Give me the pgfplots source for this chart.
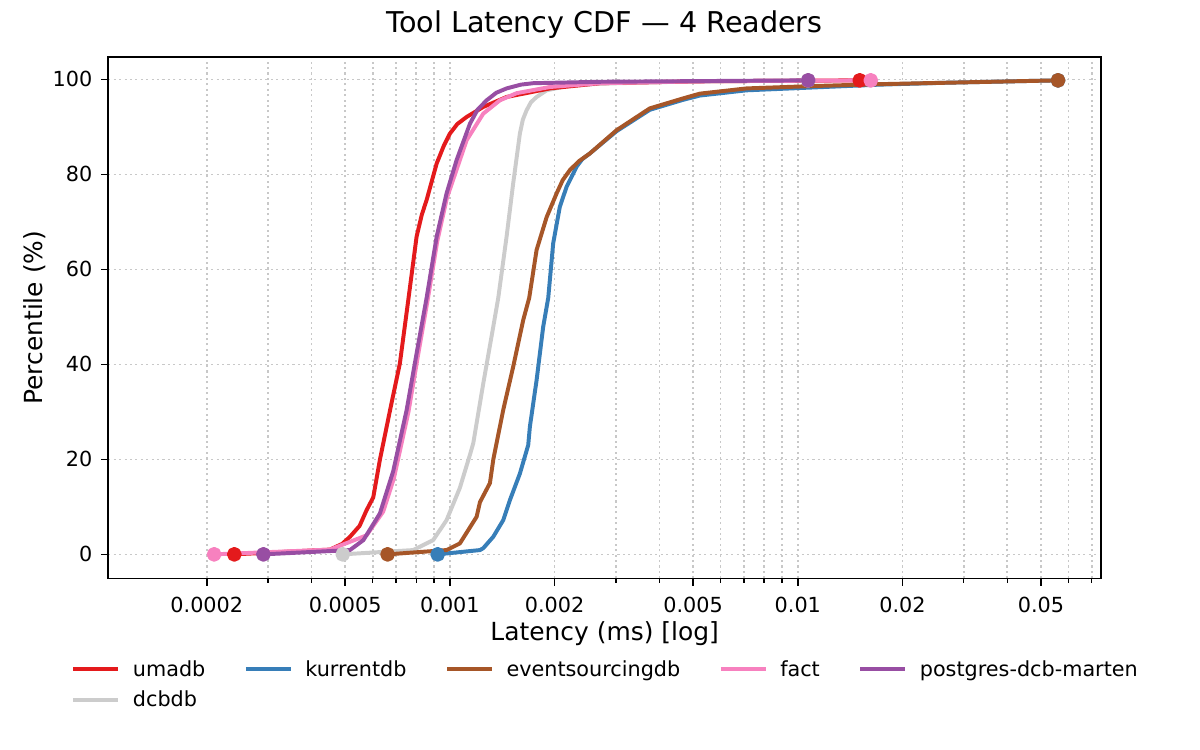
\documentclass[border=0pt]{standalone}
\usepackage{fontspec}
\setmainfont{DejaVu Sans}
\usepackage{pgfplots}
\pgfplotsset{compat=1.18}
\definecolor{cumadb}{HTML}{E41A1C}
\definecolor{ckurrent}{HTML}{377EB8}
\definecolor{cesdb}{HTML}{A65628}
\definecolor{cfact}{HTML}{F781BF}
\definecolor{cpg}{HTML}{984EA3}
\definecolor{cdcb}{HTML}{CCCCCC}
\definecolor{gridc}{RGB}{200,200,200}
\pgfplotsset{
  cdf/.style={color=#1, line width=1.9bp, line join=round, mark=*, mark size=2.6bp,
    mark options={draw=none, fill=#1}},
}
\begin{document}
\begin{tikzpicture}
\begin{axis}[
  at={(0,0)}, anchor=south west,
  scale only axis, width=476.5bp, height=250.2bp,
  xmode=log, xmin=1.042e-4, xmax=0.0744, ymin=-5.05, ymax=104.7,
  xtick={0.0002,0.0005,0.001,0.002,0.005,0.01,0.02,0.05},
  xticklabels={0.0002,0.0005,0.001,0.002,0.005,0.01,0.02,0.05},
  minor xtick={0.0003,0.0004,0.0006,0.0007,0.0008,0.0009,0.003,0.004,0.006,0.007,0.008,0.009,0.03,0.04,0.06,0.07},
  ytick={0,20,40,60,80,100},
  tick pos=left, tick align=outside,
  major tick length=3.5bp, minor tick length=2bp,
  tick style={black, line width=0.8bp},
  minor tick style={black, line width=0.6bp},
  axis line style={black, line width=0.8bp},
  xmajorgrids, xminorgrids, ymajorgrids,
  grid style={gridc, dash pattern=on 1bp off 1.6bp, line width=0.8bp},
  minor grid style={gridc, dash pattern=on 1bp off 1.6bp, line width=0.8bp},
  /pgf/number format/assume math mode=true,
  tick label style={font=\fontsize{10}{12}\selectfont, inner sep=0pt},
  xticklabel style={anchor=north, yshift=-5.3bp},
  yticklabel style={anchor=east, xshift=-4bp},
  xlabel={Latency (ms) [log]},
  ylabel={Percentile (\%)},
  label style={font=\fontsize{12}{14}\selectfont},
  xlabel style={at={([yshift=-29.6bp]axis description cs:0.5,0)}, anchor=base},
  ylabel style={at={([xshift=-31.6bp]axis description cs:0,0.5)}, anchor=base, rotate=0},
  title={Tool Latency CDF — 4 Readers},
  title style={at={([yshift=5.8bp]axis description cs:0.5,1)}, anchor=base, font=\fontsize{13.8}{16}\selectfont},
  legend columns=5,
  legend cell align=left,
  legend image code/.code={\draw[#1] (0bp,0.8bp) -- (21.6bp,0.8bp);},
  legend style={at={(0.5,-0.1571)}, anchor=north, draw=none, fill=none,
    inner sep=0pt, outer sep=0pt, row sep=4.7bp,
    font=\fontsize{10}{12}\selectfont,
    nodes={inner sep=0pt, text height=7.6bp, text depth=2.4bp},
    /tikz/every odd column/.append style={column sep=6bp},
    /tikz/every even column/.append style={column sep=18.5bp}},
]
% dcbdb (drawn underneath)
\addplot[cdf=cdcb, mark indices={1,22}, forget plot] coordinates {
(0.000492,0) (0.000784,0.9) (0.000895,3) (0.000978,7.2) (0.001068,14)
(0.001142,21) (0.001167,23.4) (0.001247,36) (0.001332,47.9) (0.001377,54)
(0.001455,66.9) (0.00152,78.1) (0.001589,88.6) (0.00162,91.5) (0.001661,93.5)
(0.00171,95.2) (0.001775,96.3) (0.001897,97.7) (0.002165,98.6) (0.0027,99.1)
(0.0045,99.5) (0.0107,99.8)
};
% umadb
\addplot[cdf=cumadb, mark indices={1,25}] coordinates {
(0.000240,0) (0.000452,1) (0.00049,2.2) (0.000516,3.7) (0.00055,6)
(0.000576,9.3) (0.000602,12) (0.000629,19.9) (0.000673,30.4) (0.000718,40.2)
(0.000759,53.5) (0.000802,66.9) (0.00083,71.5) (0.000857,74.6) (0.000916,82.3)
(0.00096,86) (0.001,88.6) (0.00105,90.6) (0.001117,92.1) (0.001247,94.2)
(0.001455,96.3) (0.001938,98.1) (0.0027,99.2) (0.0052,99.6) (0.01507,99.8)
};
\addlegendentry{umadb}
% kurrentdb
\addplot[cdf=ckurrent, mark indices={1,27}] coordinates {
(0.000922,0) (0.00122,0.9) (0.001247,1.3) (0.001332,3.7) (0.001423,7.2)
(0.001487,11.4) (0.001589,17) (0.001679,23) (0.001698,26.9) (0.001775,36.7)
(0.001854,47.9) (0.001917,54) (0.001981,65.5) (0.00207,73.2) (0.002165,77.4)
(0.002312,81.6) (0.0024,83.2) (0.002524,84.4) (0.003013,89.1) (0.003755,93.6)
(0.00468,95.7) (0.005228,96.6) (0.007121,97.7) (0.01104,98.3) (0.0172,98.9)
(0.02675,99.3) (0.05598,99.8)
};
\addlegendentry{kurrentdb}
% eventsourcingdb
\addplot[cdf=cesdb, mark indices={1,27}] coordinates {
(0.000662,0) (0.000978,0.9) (0.001068,2.3) (0.001193,7.9) (0.00122,11)
(0.001303,15) (0.001332,19.9) (0.001423,30.4) (0.00152,39.5) (0.001624,49.3)
(0.00169,54) (0.001775,64.1) (0.001897,71) (0.002026,76) (0.00211,78.8)
(0.002212,80.9) (0.00235,82.8) (0.002524,84.4) (0.003013,89.3) (0.003755,93.9)
(0.00468,96) (0.005228,97) (0.007121,98.1) (0.01104,98.6) (0.0172,99)
(0.02675,99.3) (0.05598,99.8)
};
\addlegendentry{eventsourcingdb}
% fact
\addplot[cdf=cfact, mark indices={1,19}] coordinates {
(0.00021,0) (0.000452,1) (0.000576,4) (0.000643,9) (0.00069,16)
(0.00076,30) (0.00081,42) (0.000865,54) (0.00092,66) (0.00098,75)
(0.001045,81) (0.001117,87.2) (0.001247,92.8) (0.001392,95.6) (0.001555,97.1)
(0.001938,98.4) (0.0027,99.2) (0.0052,99.6) (0.01621,99.8)
};
\addlegendentry{fact}
% postgres-dcb-marten
\addplot[cdf=cpg, mark indices={1,20}] coordinates {
(0.000291,0) (0.000516,0.9) (0.000564,3) (0.000629,8.6) (0.000687,17.5)
(0.000751,30.4) (0.000802,42.3) (0.000857,54) (0.000916,66.9) (0.000978,76)
(0.001045,83) (0.001142,90.7) (0.0012,93.6) (0.001275,95.6) (0.00136,97.2)
(0.001455,98.1) (0.0016,98.9) (0.001735,99.2) (0.0027,99.5) (0.01071,99.8)
};
\addlegendentry{postgres-dcb-marten}
\addlegendimage{cdf=cdcb}
\addlegendentry{dcbdb}
\end{axis}
\pgfresetboundingbox
\path[use as bounding box] (-51.98bp,-82.4bp) rectangle (524.02bp,277.6bp);
\end{tikzpicture}
\end{document}
